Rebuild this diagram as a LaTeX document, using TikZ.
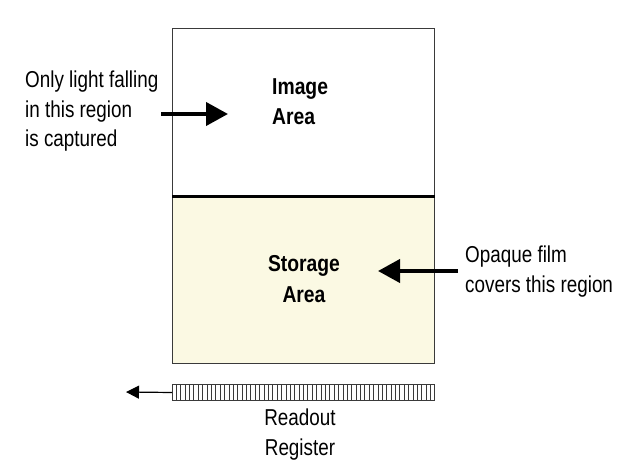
\documentclass[tikz,border=0pt]{standalone}
\usepackage{fontspec}
\setmainfont{Liberation Sans}
\newfontfamily\notefont[FakeStretch=0.82]{Liberation Sans}
\newfontfamily\areafont[FakeStretch=0.84]{Liberation Sans}
\usetikzlibrary{arrows.meta,calc}

\definecolor{edgegray}{HTML}{3A3A3A}
\definecolor{filmcream}{HTML}{FBF9E3}

\tikzset{
  region/.style={draw=edgegray, line width=1.2pt, minimum width=262pt,
    inner sep=0pt, anchor=north west},
  note/.style={inner sep=0pt, align=left,
    font=\notefont\fontsize{23}{29.5}\selectfont},
  areatext/.style={inner sep=0pt,
    font=\areafont\bfseries\fontsize{23}{30.5}\selectfont},
  bigarrow/.style={line width=4pt,
    -{Triangle[length=22pt,width=23pt]}},
  smallarrow/.style={line width=1.2pt,
    -{Triangle[length=13pt,width=13pt]}},
  cell/.style={draw=edgegray, line width=0.9pt}
}

\begin{document}
\begin{tikzpicture}[x=1pt,y=-1pt]
  \useasboundingbox (0,0) rectangle (618,470);
  \fill[white] (0,0) rectangle (618,470);

  % sensor: light-sensitive image area above, covered storage area below
  \node[region, minimum height=167pt, fill=white] (image) at (172,28) {};
  \node[region, minimum height=168pt, fill=filmcream] (storage) at (172,195) {};
  \draw[line width=3pt, black] (image.south west) -- (image.south east);

  % area labels (base anchor sits on the last line)
  \node[areatext, align=left, anchor=base west] (imagetxt) at (272,125)
    {Image\\Area};
  \node[areatext, align=center, anchor=base] (storagetxt) at (304,302)
    {Storage\\Area};

  % readout register as a row of 60 cells
  \node[draw=edgegray, line width=1pt, minimum width=262pt, minimum height=16pt,
    inner sep=0pt, anchor=north west] (register) at (172,384) {};
  \foreach \i in {1,...,59} {
    \draw[cell] ($(register.north west)!\i/60!(register.north east)$)
      -- ($(register.south west)!\i/60!(register.south east)$);
  }
  \coordinate (readoutend) at (126,392);
  \draw[smallarrow] (register.west) -- (readoutend);
  \node[note, align=center, anchor=base] (registertxt) at (300,455)
    {Readout\\Register};

  % annotation on the left
  \node[note, anchor=base west] (lighttxt) at (25,147)
    {Only light falling\\in this region\\is captured};
  \coordinate (lighttail) at (161,114);
  \coordinate (lighttip) at (228,114);
  \draw[bigarrow] (lighttail) -- (lighttip);

  % annotation on the right
  \node[note, anchor=base west] (filmtxt) at (465,292)
    {Opaque film\\covers this region};
  \coordinate (filmtail) at (458,271);
  \coordinate (filmtip) at (378,271);
  \draw[bigarrow] (filmtail) -- (filmtip);
\end{tikzpicture}
\end{document}
